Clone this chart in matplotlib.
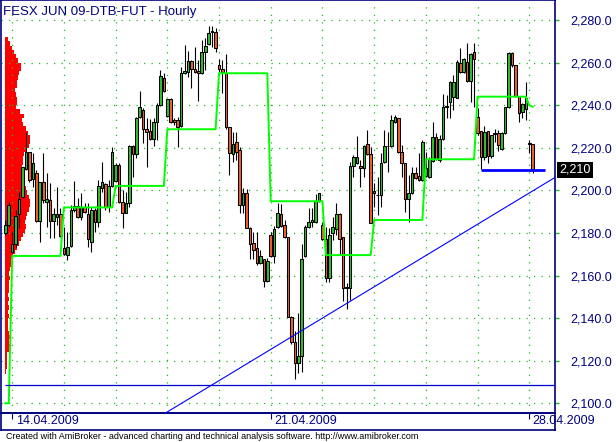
import matplotlib
matplotlib.use("Agg")
import matplotlib.pyplot as plt
import matplotlib.transforms as mtransforms
import numpy as np

plt.rcParams["font.family"] = ["Liberation Sans", "DejaVu Sans"]

TITLE = "FESX JUN 09-DTB-FUT - Hourly"
FOOTER = ("Created with AmiBroker - advanced charting and technical analysis "
          "software. http://www.amibroker.com")

# hourly bars, 15 per session; bar 2 is the first bar of 14.04.2009
opens = [
    2179.8, 2183.8, 2170.9, 2174.8, 2188.8, 2197.1, 2210.1, 2217.9, 2205.4, 2208.0,
    2185.8, 2203.8, 2194.7, 2195.5, 2185.8, 2187.7, 2188.8, 2172.8, 2169.7, 2173.9,
    2190.8, 2192.8, 2187.7, 2192.0, 2188.8, 2175.6, 2190.8, 2185.0, 2201.0, 2202.9,
    2192.0, 2202.1, 2204.5, 2211.9, 2194.7, 2189.6, 2193.9, 2220.9, 2216.9, 2234.6,
    2237.8, 2228.7, 2227.9, 2224.0, 2232.0, 2240.1, 2252.6, 2234.9, 2242.8, 2233.1,
    2233.1, 2230.2, 2255.0, 2255.7, 2260.8, 2256.8, 2256.2, 2255.0, 2264.8, 2268.6,
    2274.3, 2274.5, 2258.9, 2256.8, 2255.0, 2229.6, 2217.1, 2222.5, 2219.0, 2193.1,
    2198.6, 2182.5, 2175.4, 2172.8, 2165.7, 2167.6, 2157.6, 2179.0, 2169.2, 2182.6,
    2188.9, 2183.7, 2177.9, 2140.7, 2128.6, 2118.8, 2122.2, 2169.2, 2182.6, 2185.0,
    2185.0, 2195.0, 2183.7, 2177.0, 2158.7, 2179.8, 2181.9, 2188.8, 2178.0, 2154.5,
    2154.0, 2211.6, 2212.7, 2211.6, 2210.7, 2221.6, 2216.9, 2199.9, 2197.6, 2197.8,
    2213.5, 2220.6, 2220.8, 2232.0, 2233.8, 2217.9, 2212.7, 2195.8, 2198.6, 2208.0,
    2206.7, 2204.9, 2206.7, 2206.4, 2213.8, 2224.9, 2214.3, 2224.1, 2239.0, 2241.7,
    2243.7, 2243.5, 2260.0, 2255.7, 2260.4, 2251.5, 2264.8, 2234.6, 2227.9, 2215.8,
    2227.9, 2216.0, 2226.5, 2226.8, 2219.3, 2226.8, 2239.0, 2264.7, 2258.9, 2244.3,
    2237.0, 2238.2, 2221.9, 2221.8,
]
highs = [
    2186.1, 2194.7, 2180.6, 2190.8, 2199.4, 2211.1, 2227.6, 2218.2, 2217.4, 2209.6,
    2204.1, 2217.4, 2208.0, 2203.3, 2191.6, 2201.7, 2191.6, 2183.0, 2180.6, 2193.1,
    2204.4, 2196.3, 2198.6, 2193.9, 2193.9, 2192.4, 2191.6, 2204.9, 2213.5, 2203.3,
    2204.9, 2220.5, 2212.7, 2212.7, 2200.2, 2199.4, 2221.3, 2221.3, 2234.6, 2246.8,
    2238.5, 2233.8, 2233.4, 2233.8, 2240.9, 2256.5, 2255.0, 2242.8, 2243.2, 2233.8,
    2234.6, 2258.1, 2268.3, 2265.4, 2261.0, 2267.2, 2261.2, 2270.6, 2271.4, 2277.2,
    2277.2, 2276.1, 2261.5, 2261.2, 2263.9, 2229.9, 2227.2, 2227.2, 2220.5, 2201.0,
    2200.5, 2183.0, 2180.6, 2180.6, 2172.0, 2168.0, 2168.1, 2180.6, 2183.3, 2193.9,
    2193.6, 2186.1, 2178.3, 2141.0, 2134.1, 2142.3, 2174.8, 2183.7, 2191.6, 2191.6,
    2198.3, 2198.8, 2185.3, 2183.0, 2182.2, 2187.6, 2193.9, 2189.2, 2178.3, 2156.4,
    2213.2, 2216.6, 2225.5, 2214.3, 2221.3, 2228.3, 2220.5, 2203.3, 2206.4, 2217.4,
    2228.3, 2227.6, 2235.4, 2235.4, 2233.8, 2221.3, 2212.9, 2207.2, 2211.1, 2211.1,
    2217.4, 2223.7, 2218.2, 2215.8, 2232.3, 2226.8, 2226.0, 2245.3, 2244.8, 2251.2,
    2254.2, 2261.2, 2266.7, 2262.0, 2269.0, 2264.3, 2269.0, 2238.5, 2227.9, 2230.0,
    2228.0, 2226.0, 2229.0, 2228.3, 2227.6, 2239.3, 2265.1, 2265.1, 2258.9, 2244.3,
    2241.0, 2251.0, 2223.5, 2221.8,
]
lows = [
    2179.0, 2183.0, 2170.4, 2173.6, 2182.2, 2196.3, 2209.6, 2204.1, 2201.7, 2185.3,
    2175.9, 2194.2, 2183.0, 2177.5, 2177.5, 2183.7, 2178.3, 2169.7, 2167.3, 2173.6,
    2190.0, 2187.2, 2186.1, 2189.2, 2173.6, 2171.2, 2180.6, 2183.0, 2199.4, 2190.8,
    2190.0, 2201.7, 2204.1, 2193.9, 2182.2, 2189.2, 2192.4, 2206.4, 2215.0, 2233.8,
    2222.1, 2211.1, 2223.7, 2220.8, 2223.7, 2239.6, 2246.3, 2234.6, 2231.5, 2230.7,
    2220.2, 2229.9, 2254.6, 2253.4, 2247.9, 2255.0, 2242.0, 2254.6, 2256.5, 2268.3,
    2267.2, 2265.1, 2255.7, 2245.9, 2229.0, 2207.2, 2213.2, 2214.3, 2189.2, 2189.2,
    2182.2, 2167.6, 2167.6, 2164.9, 2165.4, 2154.5, 2157.1, 2168.9, 2166.0, 2182.2,
    2183.0, 2177.4, 2140.4, 2128.0, 2111.3, 2114.1, 2114.9, 2168.9, 2182.2, 2183.0,
    2184.5, 2194.7, 2176.7, 2157.1, 2157.1, 2176.7, 2179.0, 2169.7, 2148.2, 2144.1,
    2148.5, 2206.4, 2212.5, 2201.4, 2206.4, 2216.6, 2184.5, 2192.4, 2188.4, 2192.4,
    2212.7, 2208.8, 2220.5, 2231.5, 2217.4, 2206.4, 2190.0, 2185.3, 2198.4, 2205.2,
    2204.6, 2204.6, 2206.4, 2205.7, 2213.5, 2214.3, 2213.5, 2223.7, 2234.0, 2233.8,
    2237.7, 2243.2, 2255.0, 2255.0, 2251.0, 2241.7, 2239.3, 2226.0, 2210.0, 2214.3,
    2212.7, 2215.0, 2222.9, 2218.6, 2219.0, 2226.5, 2238.5, 2258.1, 2244.0, 2232.3,
    2234.0, 2233.0, 2217.4, 2208.3,
]
closes = [
    2183.8, 2193.1, 2174.8, 2188.0, 2195.8, 2210.8, 2217.9, 2204.9, 2212.7, 2185.8,
    2203.8, 2195.5, 2195.8, 2185.8, 2188.8, 2188.8, 2178.8, 2170.0, 2173.6, 2190.8,
    2192.8, 2187.7, 2192.0, 2189.7, 2177.0, 2190.8, 2185.0, 2202.1, 2203.8, 2192.0,
    2202.1, 2217.9, 2211.9, 2194.7, 2189.6, 2193.9, 2220.9, 2216.9, 2233.8, 2239.0,
    2228.7, 2227.6, 2224.0, 2232.0, 2240.1, 2253.7, 2246.8, 2242.8, 2232.0, 2232.0,
    2229.6, 2255.3, 2256.2, 2260.8, 2256.8, 2255.7, 2255.0, 2264.8, 2267.8, 2273.7,
    2274.6, 2266.7, 2256.8, 2255.7, 2229.6, 2217.4, 2221.8, 2217.9, 2193.1, 2198.6,
    2182.5, 2174.6, 2172.0, 2165.7, 2169.3, 2157.6, 2166.8, 2169.2, 2181.9, 2189.5,
    2183.4, 2177.9, 2140.7, 2128.6, 2118.8, 2122.2, 2167.6, 2182.6, 2185.0, 2186.0,
    2195.0, 2198.6, 2177.0, 2158.7, 2179.0, 2183.0, 2188.8, 2177.2, 2154.0, 2154.0,
    2211.6, 2215.8, 2215.8, 2210.7, 2220.8, 2216.9, 2184.8, 2198.6, 2198.0, 2212.7,
    2220.8, 2221.0, 2233.0, 2234.6, 2217.9, 2212.7, 2195.8, 2198.6, 2208.0, 2205.7,
    2204.9, 2222.6, 2210.3, 2214.6, 2224.9, 2214.6, 2224.1, 2239.0, 2239.5, 2251.0,
    2251.0, 2260.4, 2255.7, 2261.5, 2251.5, 2264.0, 2261.5, 2226.8, 2215.8, 2227.6,
    2216.1, 2226.0, 2227.0, 2221.3, 2226.8, 2239.0, 2264.7, 2258.9, 2244.3, 2236.5,
    2240.5, 2243.3, 2222.1, 2210.0,
]

# green step line: level and number of bars it is held
stop_levels = [2100.0, 2169.2, 2192.0, 2202.1, 2228.7, 2255.0, 2194.9,
               2169.6, 2186.1, 2214.6, 2244.0, 2240.0, 2239.3]
stop_runs = [2, 15, 15, 15, 15, 15, 16, 14, 15, 15, 15, 1, 1]

# volume-at-price profile, 2-point bins starting at 2114
vp_low = 2114
vp_step = 2
vp_volume = [
    1, 1.5, 1.5, 2, 2, 4, 4.5, 4, 4.5, 4,
    3, 3, 3, 3.5, 3, 3.5, 3, 3.5, 3, 3.5,
    4, 4, 4.5, 4, 5, 5.5, 6, 8, 10, 12,
    13.5, 16, 18, 20, 20.5, 20, 21, 22, 24, 25,
    25, 24, 22, 21, 20, 19, 18, 18, 17, 18,
    18, 19, 21, 24, 25, 25, 23, 21, 18, 17,
    19, 15, 11, 12, 12, 11, 10, 12, 12, 13,
    14, 16, 16, 13, 11, 9, 7, 5, 3,
]

# support / trend lines
trend_pts = [(62.3, 2110.95), (159.5, 2206.1)]
low_line = 2108.6
support_line = 2209.6
support_span = (138.0, 156.6)
last_label = "2,210"

day_starts = [2, 17, 32, 47, 62, 77, 92, 107, 122, 137, 152]
date_ticks = [2, 77, 152]
date_labels = ["14.04.2009", "21.04.2009", "28.04.2009"]
price_ticks = list(range(2100, 2281, 20))

NAVY = "#000080"
GRID = "#22bb22"
UP = "#2fbf2f"
DOWN = "#f0602a"

W, H = 616, 442
fig = plt.figure(figsize=(W / 100, H / 100), dpi=100)
fig.patch.set_facecolor("white")

rect = [1 / W, 29 / H, 554 / W, 413 / H]
xlim = (-1.25, 159.47)
ylim = (2095.46, 2289.39)

# profile sits on its own axes beneath the price axes
ax_vp = fig.add_axes(rect)
ax_vp.set_xlim(0, 554)
ax_vp.set_ylim(*ylim)
ax_vp.axis("off")
vp_prices = vp_low + vp_step * np.arange(len(vp_volume))
ax_vp.barh(vp_prices, vp_volume, height=vp_step, left=4, align="edge",
           color="#ff0000", linewidth=0)

ax = fig.add_axes(rect)
ax.set_zorder(ax_vp.get_zorder() + 1)
ax.patch.set_visible(False)
ax.set_xlim(*xlim)
ax.set_ylim(*ylim)

ax.set_xticks(day_starts)
ax.set_yticks(price_ticks)
ax.grid(True, color=GRID, linestyle=(0, (1, 5)), linewidth=0.9)
ax.set_axisbelow(True)
ax.tick_params(axis="x", bottom=False, labelbottom=False)
ax.yaxis.tick_right()
ax.tick_params(axis="y", colors=GRID, labelcolor=NAVY, length=3, width=1,
               pad=8, labelsize=9)
ax.set_yticklabels([f"{p:,.1f}" for p in price_ticks])
for s in ax.spines.values():
    s.set_color(NAVY)
    s.set_linewidth(1.2)

# candles
x = np.arange(len(opens))
o = np.array(opens)
c = np.array(closes)
up = c >= o
ax.vlines(x, lows, highs, color="black", linewidth=0.8, zorder=3)
body_h = np.where(np.abs(c - o) < 0.3, 0.3, c - o)
ax.bar(x, body_h, bottom=o, width=0.75,
       color=np.where(up, UP, DOWN), edgecolor="black", linewidth=0.75, zorder=4)

# step line
stop = np.repeat(stop_levels, stop_runs)
ax.plot(x, stop, color="#00ff00", linewidth=1.4, zorder=5)

ax.axline(trend_pts[0], trend_pts[1], color="#0000ff", linewidth=0.8, zorder=6)
ax.hlines(low_line, -0.1, xlim[1], color="#0000cc", linewidth=0.9, zorder=6)
ax.hlines(support_line, *support_span, color="#0000ff", linewidth=2.0, zorder=6)

trans = mtransforms.blended_transform_factory(ax.transAxes, ax.transData)
ax.text(1.0 + 4 / 554, support_line, last_label, transform=trans, color="white",
        fontsize=9, va="center", ha="left",
        bbox=dict(facecolor="black", edgecolor="none", pad=1.6), zorder=7)

fig.text(3 / W, 1 - 15 / H, TITLE, color=NAVY, fontsize=9.5, va="baseline")

# date strip
ax_d = fig.add_axes([1 / W, 12 / H, 554 / W, 17 / H])
ax_d.set_xlim(*xlim)
ax_d.set_ylim(0, 1)
ax_d.set_xticks([])
ax_d.set_yticks([])
for s in ax_d.spines.values():
    s.set_color(NAVY)
    s.set_linewidth(1.2)
ax_d.vlines(date_ticks, 0.65, 1.0, color=NAVY, linewidth=0.8)
for t, lab in zip(date_ticks, date_labels):
    ax_d.text(t + 1.0, 0.5, lab, color=NAVY, fontsize=9, va="center", ha="left",
              clip_on=False)

fig.text(6 / W, 1 - 439 / H, FOOTER, color="black", fontsize=6.5, va="baseline")

fig.savefig("out.png", dpi=100)
